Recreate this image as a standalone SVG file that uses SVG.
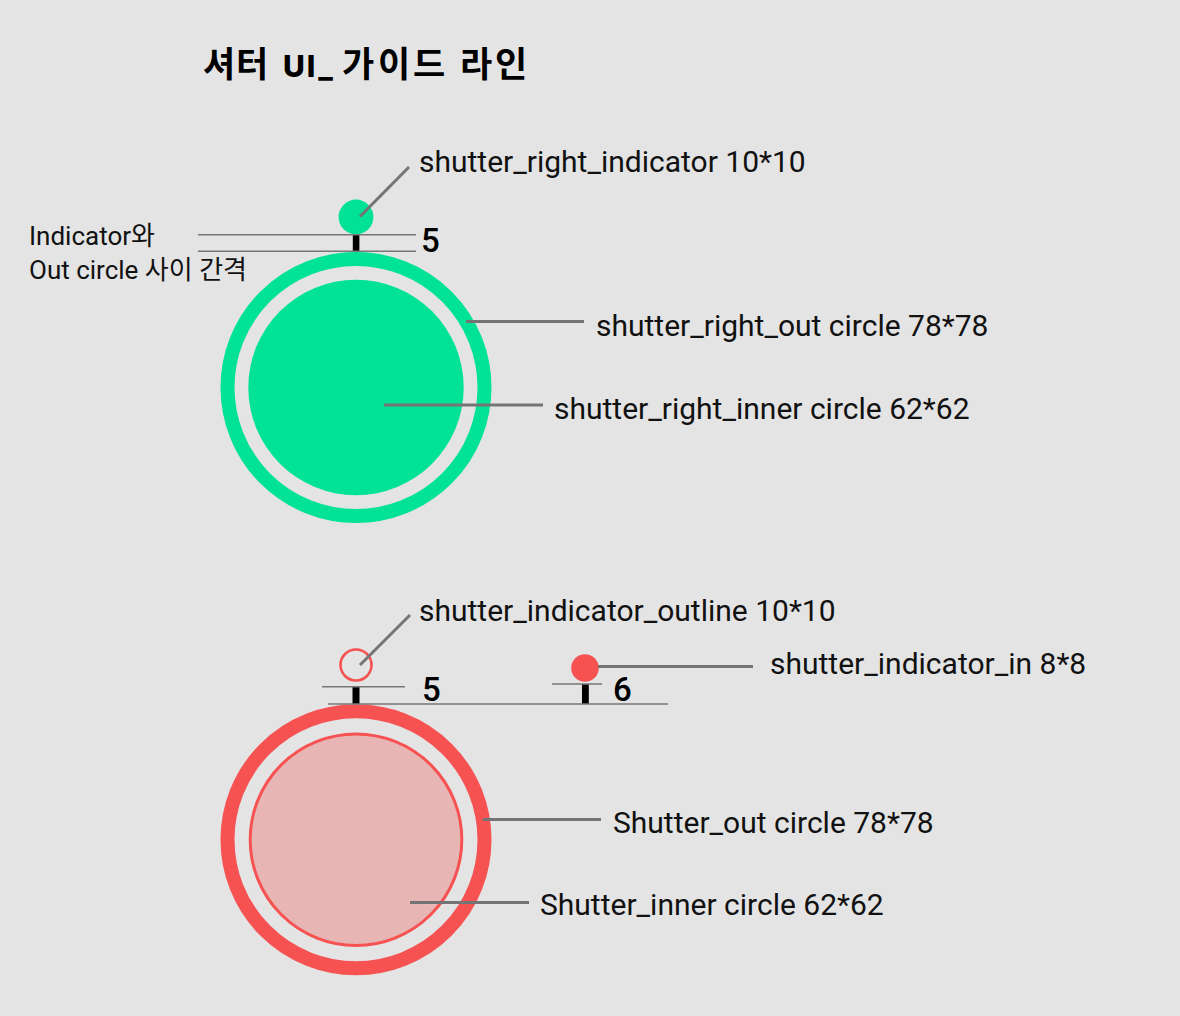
<svg xmlns="http://www.w3.org/2000/svg" width="1180" height="1016" viewBox="0 0 1180 1016">
<style>
.bg{fill:#E4E4E4}
.lbl{font-family:Roboto,"Noto Sans CJK KR",sans-serif;font-size:30px;fill:#111}
.note{font-family:Roboto,"Noto Sans CJK KR",sans-serif;font-size:26px;fill:#111}
.num{font-family:Roboto,"Liberation Sans",sans-serif;font-size:33px;font-weight:500;fill:#000}
.title{font-family:"Noto Sans CJK KR",sans-serif;font-size:35px;font-weight:700;fill:#000}
.tlat{font-family:Inter,Roboto,"Noto Sans CJK KR",sans-serif;font-size:30px;font-weight:800;letter-spacing:2px}
.guide{stroke:#777;stroke-width:1.6;fill:none}
.call{stroke:#747474;stroke-width:3;fill:none}
.bar{fill:#000}
.green{fill:#00E295}
.gring{fill:none;stroke:#00E295;stroke-width:14}
.rring{fill:none;stroke:#F65252;stroke-width:14}
</style>
<rect class="bg" x="0" y="0" width="1180" height="1016"/>

<g id="title">
<text class="title" y="77"><tspan x="203 236">셔터</tspan><tspan class="tlat" x="283">UI_</tspan><tspan x="342 378 413">가이드</tspan><tspan x="460 495">라인</tspan></text>
</g>

<g id="green-shutter">
<g id="shutter_right_out"><circle class="gring" cx="356" cy="387.5" r="128.5"/></g>
<g id="shutter_right_inner"><circle class="green" cx="356" cy="387.5" r="107.7"/></g>
<g id="shutter_right_indicator"><circle class="green" cx="356" cy="217" r="17.4"/></g>
<g id="gap-top"><rect class="bar" x="352.8" y="234.7" width="6.6" height="16.6"/></g>
</g>

<g id="red-shutter">
<g id="shutter_out"><circle class="rring" cx="356" cy="839.7" r="128.5"/></g>
<g id="shutter_inner"><circle cx="356" cy="839.7" r="105.8" fill="#E8B5B5" stroke="#F65252" stroke-width="3"/></g>
<g id="shutter_indicator_outline"><circle cx="356" cy="665" r="15.5" fill="none" stroke="#F65252" stroke-width="2.6"/></g>
<g id="shutter_indicator_in"><circle cx="585" cy="668" r="13.8" fill="#F65252"/></g>
<g id="gap-left"><rect class="bar" x="352.5" y="686.7" width="7" height="17.3"/></g>
<g id="gap-right"><rect class="bar" x="582" y="684" width="6.8" height="20"/></g>
</g>

<g id="connectors">
<line class="guide" x1="198" y1="234.7" x2="416" y2="234.7"/>
<line class="guide" x1="198" y1="251.3" x2="416" y2="251.3"/>
<line class="call" x1="409" y1="167" x2="360" y2="216.5"/>
<line class="call" x1="466" y1="321.5" x2="584" y2="321.5"/>
<line class="call" x1="384" y1="405" x2="543" y2="405"/>
<line class="guide" x1="322" y1="686.7" x2="405" y2="686.7"/>
<line class="guide" x1="552" y1="684" x2="602" y2="684"/>
<line class="guide" x1="328" y1="704" x2="668" y2="704"/>
<line class="call" x1="410" y1="615" x2="360" y2="665"/>
<line class="call" x1="598" y1="666.5" x2="753" y2="666.5"/>
<line class="call" x1="483" y1="819.5" x2="601" y2="819.5"/>
<line class="call" x1="410" y1="902.5" x2="529" y2="902.5"/>
</g>

<g id="labels">
<text class="note" x="29" y="245">Indicator와</text>
<text class="note" x="29" y="279">Out circle 사이 간격</text>
<text class="num" x="421" y="251.5">5</text>
<text class="lbl" x="419" y="172">shutter_right_indicator 10*10</text>
<text class="lbl" x="596" y="336">shutter_right_out circle 78*78</text>
<text class="lbl" x="554" y="418.5">shutter_right_inner circle 62*62</text>
<text class="lbl" x="419" y="621">shutter_indicator_outline 10*10</text>
<text class="lbl" x="770" y="674">shutter_indicator_in 8*8</text>
<text class="num" x="422" y="701">5</text>
<text class="num" x="613" y="701">6</text>
<text class="lbl" x="613" y="833">Shutter_out circle 78*78</text>
<text class="lbl" x="540" y="915">Shutter_inner circle 62*62</text>
</g>
</svg>
